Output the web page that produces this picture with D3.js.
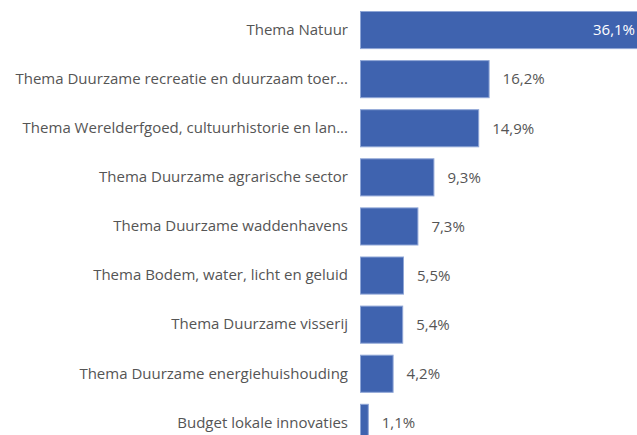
<!DOCTYPE html>
<html>
<head>
<meta charset="utf-8">
<script src="https://cdn.jsdelivr.net/npm/d3@7"></script>
<style>
  html, body { margin: 0; padding: 0; background: #fff; }
  svg { display: block; }
</style>
</head>
<body>
<svg id="chart" width="637" height="435"></svg>
<script>
const categories = [
  "Thema Natuur",
  "Thema Duurzame recreatie en duurzaam toer...",
  "Thema Werelderfgoed, cultuurhistorie en lan...",
  "Thema Duurzame agrarische sector",
  "Thema Duurzame waddenhavens",
  "Thema Bodem, water, licht en geluid",
  "Thema Duurzame visserij",
  "Thema Duurzame energiehuishouding",
  "Budget lokale innovaties"
];
const values = [36.1, 16.2, 14.9, 9.3, 7.3, 5.5, 5.4, 4.2, 1.1];
const valueLabels = ["36,1%", "16,2%", "14,9%", "9,3%", "7,3%", "5,5%", "5,4%", "4,2%", "1,1%"];

const W = 637, H = 435;
const svg = d3.select("#chart");
const font = "'Open Sans', 'Segoe UI', sans-serif";

const x = d3.scaleLinear().domain([0, 36.1]).range([360, 360 + 36.1 * 8.0]);
const y = d3.scaleBand().domain(categories).range([5.5, 5.5 + 49.1 * 9])
  .paddingInner(0.224).paddingOuter(0.112);

const data = categories.map((c, i) => ({ c, v: values[i], l: valueLabels[i] }));

svg.selectAll("rect.bar").data(data).join("rect")
  .attr("class", "bar")
  .attr("x", x(0) + 0.5)
  .attr("y", d => y(d.c) + 0.5)
  .attr("width", d => x(d.v) - x(0) - 1)
  .attr("height", y.bandwidth() - 1)
  .attr("fill", "#3F63AF")
  .attr("stroke", "#8FA6D6")
  .attr("stroke-width", 1);

const yAxis = d3.axisLeft(y).tickSize(0).tickPadding(12);
const g = svg.append("g").attr("transform", `translate(${x(0)},0)`).call(yAxis);
g.select(".domain").remove();
g.selectAll("text")
  .attr("font-family", font)
  .attr("font-size", 15)
  .attr("fill", "#555555");

const inside = d => x(d.v) > W - 20;
svg.selectAll("text.val").data(data).join("text")
  .attr("class", "val")
  .attr("x", d => inside(d) ? W - 2 : x(d.v) + 13)
  .attr("y", d => y(d.c) + y.bandwidth() / 2)
  .attr("dy", "0.35em")
  .attr("text-anchor", d => inside(d) ? "end" : "start")
  .attr("font-family", font)
  .attr("font-size", 15)
  .attr("fill", d => inside(d) ? "#ffffff" : "#555555")
  .text(d => d.l);
</script>
</body>
</html>
